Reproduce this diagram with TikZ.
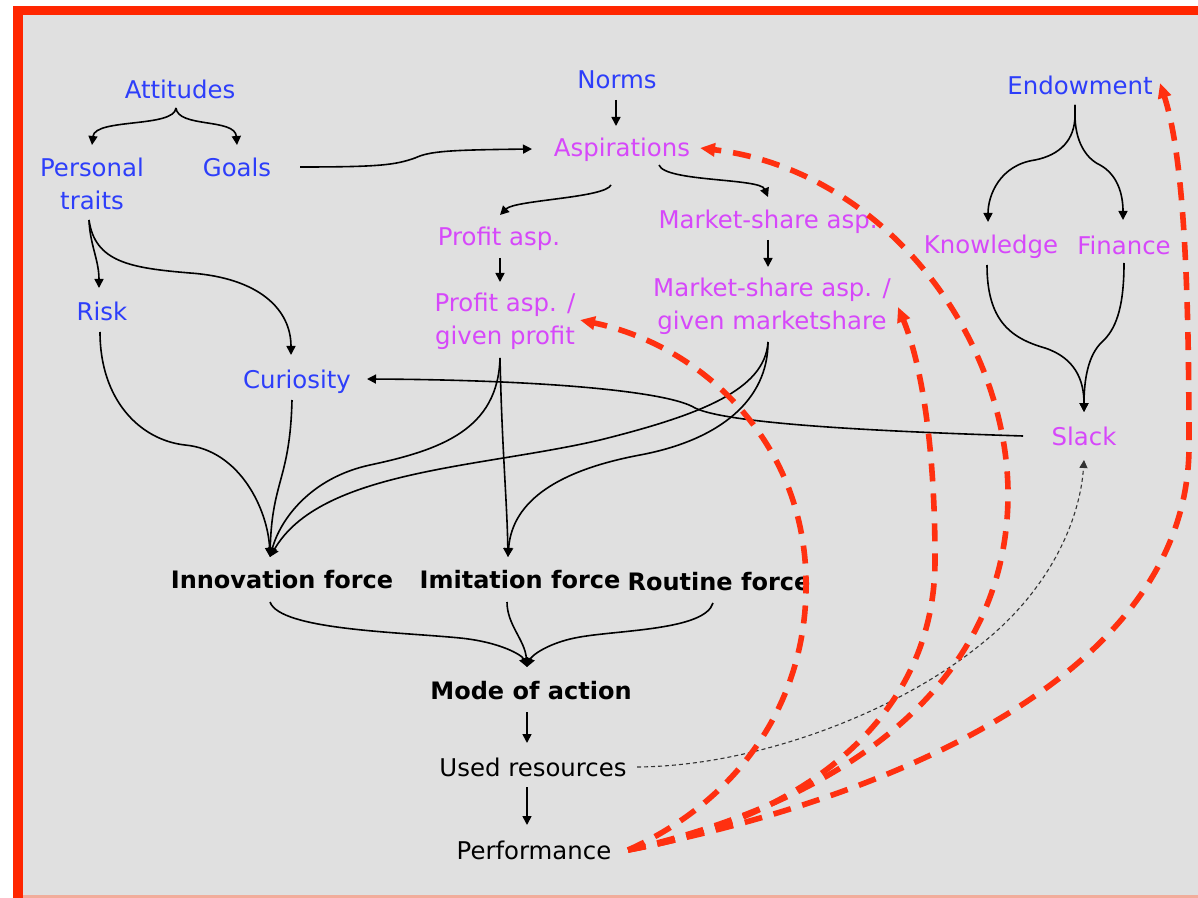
\documentclass[tikz,border=0pt]{standalone}
\usepackage{fontspec}
\setmainfont{DejaVu Sans}
\usetikzlibrary{arrows.meta,calc}

\definecolor{bggray}{RGB}{224,224,224}
\definecolor{framered}{RGB}{255,38,0}
\definecolor{framepink}{RGB}{242,172,155}
\definecolor{lblblue}{RGB}{45,62,250}
\definecolor{lblmag}{RGB}{214,72,250}
\definecolor{fbred}{RGB}{255,48,16}

\tikzset{
  lbl/.style={inner sep=0pt, outer sep=0pt, align=center,
    font=\fontsize{12.2}{16.5}\selectfont},
  inp/.style={lbl, text=lblblue},
  asp/.style={lbl, text=lblmag},
  force/.style={lbl, text=black, font=\fontsize{12}{15}\selectfont\bfseries},
  plain/.style={lbl, text=black},
  link/.style={draw=black, line width=0.8pt,
    -{Triangle[length=4.5pt,width=4.5pt]}},
  weak/.style={draw=black!80, line width=0.55pt, dash pattern=on 2pt off 1.5pt,
    -{Triangle[length=4pt,width=4pt]}},
  feedback/.style={draw=fbred, line width=2.8pt, dash pattern=on 9pt off 6pt,
    -{Triangle[length=7.5pt,width=6.5pt]}}
}

\begin{document}
\begin{tikzpicture}[x=0.5pt, y=-0.5pt]
\useasboundingbox (0,0) rectangle (1198,898);

% page and frame
\fill[white] (0,0) rectangle (1198,898);
\fill[bggray] (23,15) rectangle (1198,895);
\fill[framered] (13,6) rectangle (23,898);
\fill[framered] (13,6) rectangle (1198,15);
\fill[framepink] (23,895) rectangle (1198,898);

% labels
\node[inp] (att)    at (180,89)    {Attitudes};
\node[inp] (pt)     at (92,183.5)  {Personal\\traits};
\node[inp] (goals)  at (237,167)   {Goals};
\node[inp] (norms)  at (617,80)    {Norms};
\node[asp] (asp)    at (622,150)   {Aspirations};
\node[inp] (endow)  at (1080,85)   {Endowment};
\node[asp] (pasp)   at (499,239)   {Profit asp.};
\node[asp] (masp)   at (768,222)   {Market-share asp.};
\node[asp] (know)   at (991,247)   {Knowledge};
\node[asp] (fin)    at (1124,245)  {Finance};
\node[inp] (risk)   at (102,311)   {Risk};
\node[asp] (pgiv)   at (505,321)   {Profit asp. /\\given profit};
\node[asp] (mgiv)   at (772,306)   {Market-share asp. /\\given marketshare};
\node[inp] (cur)    at (297,382)   {Curiosity};
\node[asp] (slack)  at (1084,436)  {Slack};
\node[force] (innov) at (282,580)  {Innovation force};
\node[force] (imit)  at (520,580)  {Imitation force};
\node[force] (rout)  at (719,582)  {Routine force};
\node[force] (mode)  at (531,691)  {Mode of action};
\node[plain] (used)  at (533,767)  {Used resources};
\node[plain] (perf)  at (534,850)  {Performance};

% attitudes and goals
\draw[link] ($(att)+(-4,19)$) .. controls (174,128) and (95,118) .. ($(pt)+(0,-38.5)$);
\draw[link] ($(att)+(-4,19)$) .. controls (178,128) and (235,118) .. ($(goals)+(0,-22)$);
\draw[link] ($(goals)+(63,0)$) .. controls (380,167) and (395,165) .. (415,158)
  .. controls (430,151) and (450,150) .. ($(asp)+(-90,-1)$);
\draw[link] ($(norms)+(-1,20)$) -- ($(asp)+(-6,-24)$);

% aspirations
\draw[link] ($(asp)+(-11,35)$) .. controls (605,198) and (515,200) .. ($(pasp)+(1,-24)$);
\draw[link] ($(asp)+(37,15)$) .. controls (665,182) and (760,178) .. ($(masp)+(0,-25)$);
\draw[link] ($(pasp)+(1,19)$) -- ($(pgiv)+(-5,-39)$);
\draw[link] ($(masp)+(0,18)$) -- ($(mgiv)+(-4,-39)$);

% personal traits
\draw[link] ($(pt)+(-3,36.5)$) .. controls (90,245) and (99,260) .. ($(risk)+(-3,-23)$);
\draw[link] ($(pt)+(-3,36.5)$) .. controls (95,262) and (130,268) .. (190,273)
  .. controls (260,278) and (291,310) .. ($(cur)+(-6,-27)$);

% into innovation force
\draw[link] ($(risk)+(-2,21)$) .. controls (100,400) and (140,440) .. (185,445)
  .. controls (240,450) and (268,510) .. ($(innov)+(-12,-23)$);
\draw[link] ($(cur)+(-5,18)$) .. controls (290,480) and (272,480) .. ($(innov)+(-12,-23)$);
\draw[link] ($(pgiv)+(-5,37)$) .. controls (498,430) and (440,450) .. (370,465)
  .. controls (310,478) and (280,520) .. ($(innov)+(-12,-23)$);
\draw[link] ($(mgiv)+(-4,36)$) .. controls (765,390) and (700,415) .. (600,440)
  .. controls (480,468) and (320,470) .. ($(innov)+(-12,-23)$);

% into imitation force
\draw[link] ($(pgiv)+(-5,37)$) .. controls (502,450) and (507,500) .. ($(imit)+(-12,-23)$);
\draw[link] ($(mgiv)+(-4,36)$) .. controls (768,400) and (720,440) .. (640,455)
  .. controls (560,470) and (512,500) .. ($(imit)+(-12,-23)$);

% slack to curiosity
\draw[link] ($(slack)+(-61,0)$) .. controls (900,432) and (730,425) .. (695,408)
  .. controls (670,392) and (550,380) .. ($(cur)+(70,-3)$);

% endowment
\draw[link] ($(endow)+(-5,20)$) -- (1075,115) .. controls (1075,140) and (1060,155) .. (1035,160)
  .. controls (1000,165) and (988,195) .. ($(know)+(-3,-25)$);
\draw[link] ($(endow)+(-5,20)$) -- (1075,115) .. controls (1075,140) and (1085,158) .. (1100,165)
  .. controls (1118,175) and (1123,195) .. ($(fin)+(-1,-25)$);
\draw[link] ($(know)+(-4,18)$) .. controls (987,320) and (1010,338) .. (1045,348)
  .. controls (1075,358) and (1084,380) .. ($(slack)+(0,-24)$);
\draw[link] ($(fin)+(0,18)$) .. controls (1124,310) and (1115,330) .. (1102,342)
  .. controls (1088,355) and (1084,380) .. ($(slack)+(0,-24)$);

% forces to mode of action
\draw[link] ($(innov)+(-12,22)$) .. controls (280,630) and (400,632) .. (460,638)
  .. controls (500,642) and (522,655) .. ($(mode)+(-4,-24)$);
\draw[link] ($(imit)+(-13,22)$) .. controls (507,625) and (525,640) .. ($(mode)+(-4,-24)$);
\draw[link] ($(rout)+(-6,21)$) .. controls (705,630) and (620,630) .. (580,637)
  .. controls (550,642) and (532,655) .. ($(mode)+(-4,-24)$);
\draw[link] ($(mode)+(-4,21)$) -- ($(used)+(-6,-24)$);
\draw[link] ($(used)+(-6,20)$) -- ($(perf)+(-7,-25)$);

% used resources to slack
\draw[weak] ($(used)+(104,0)$) .. controls (760,766) and (900,710) .. (980,645)
  .. controls (1050,590) and (1080,520) .. ($(slack)+(0,24)$);

% performance feedback
\draw[feedback] ($(perf)+(94,0)$) .. controls (740,800) and (808,700) .. (806,580)
  .. controls (804,440) and (700,345) .. ($(pgiv)+(75,-1)$);
\draw[feedback] ($(perf)+(94,0)$) .. controls (800,820) and (935,720) .. (935,560)
  .. controls (935,440) and (920,360) .. ($(mgiv)+(126,1)$);
\draw[feedback] ($(perf)+(94,0)$) .. controls (850,800) and (1010,680) .. (1008,490)
  .. controls (1005,330) and (880,170) .. ($(asp)+(78,-2)$);
\draw[feedback] ($(perf)+(94,0)$) .. controls (880,800) and (1185,680) .. (1189,450)
  .. controls (1189,300) and (1185,160) .. ($(endow)+(80,-2)$);
\end{tikzpicture}
\end{document}
